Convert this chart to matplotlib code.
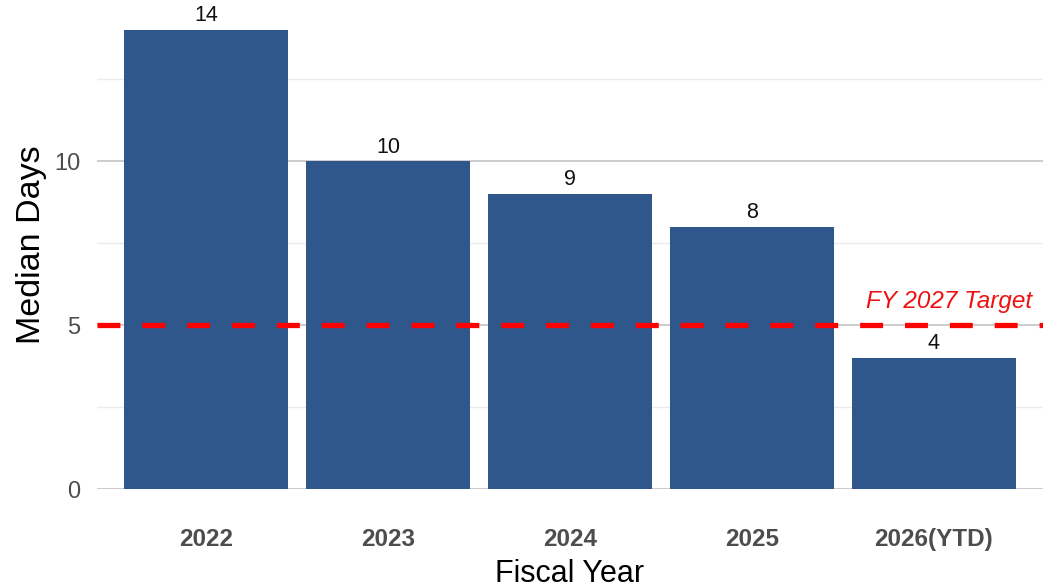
import matplotlib
matplotlib.use("Agg")
import matplotlib.pyplot as plt
import numpy as np

plt.rcParams['font.family'] = ['Liberation Sans', 'DejaVu Sans']
plt.rcParams['lines.scale_dashes'] = False

# median days to close, by fiscal year
years = ["2022", "2023", "2024", "2025", "2026(YTD)"]
median_days = [14, 10, 9, 8, 4]
target_days = 5
target_label = "FY 2027 Target"

bar_color = "#2F578C"
text_gray = "#4D4D4D"

fig = plt.figure(figsize=(10.47, 5.88), dpi=100)
ax = fig.add_axes([97 / 1047, 99 / 588, 946 / 1047, 489 / 588])

x = np.arange(len(years))
bars = ax.bar(x, median_days, width=0.9, color=bar_color, zorder=2)

# value labels above each bar
for xi, v in zip(x, median_days):
    ax.annotate(str(v), xy=(xi, v), xytext=(0, 6), textcoords='offset points',
                ha='center', va='baseline', fontsize=15.5, color='#111111')

# target line
ax.axhline(target_days, color='#FF0000', linewidth=3.8, dashes=(16.5, 15.8), zorder=3)
ax.annotate(target_label, xy=(4.54, target_days), xytext=(0, 12),
            textcoords='offset points', ha='right', va='baseline',
            fontsize=17.5, style='italic', color='#EE1111')

ax.set_xlim(-0.6, 4.6)
ax.set_ylim(0, 489 / 32.8)
ax.set_xticks(x)
ax.set_xticklabels(years, fontsize=17.5, fontweight='bold', color=text_gray)
ax.set_yticks([0, 5, 10])
ax.set_yticks([2.5, 7.5, 12.5], minor=True)
ax.tick_params(axis='y', which='major', labelsize=17, labelcolor=text_gray, length=0, pad=12)
ax.tick_params(axis='y', which='minor', length=0)
ax.tick_params(axis='x', length=0, pad=28)

ax.grid(axis='y', which='major', color='#C8C8C8', linewidth=1.3)
ax.grid(axis='y', which='minor', color='#EBEBEB', linewidth=1.0)
ax.set_axisbelow(True)
for s in ax.spines.values():
    s.set_visible(False)

ax.set_xlabel("Fiscal Year", fontsize=22, color='black', labelpad=6)
ax.set_ylabel("Median Days", fontsize=24.5, color='black', labelpad=5)

fig.savefig("out.png", dpi=100)
